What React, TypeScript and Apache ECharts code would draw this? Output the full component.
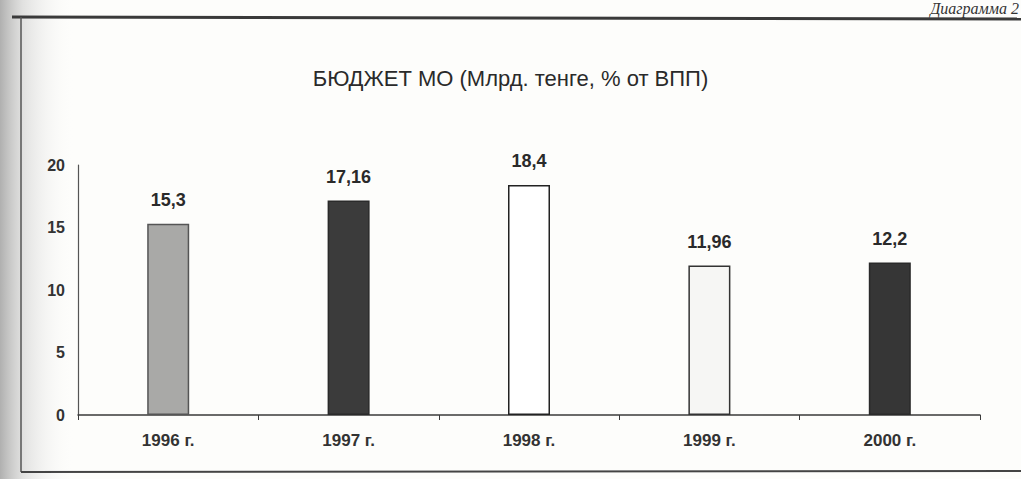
import React, { useEffect, useRef } from "react";
import * as echarts from "echarts";

const categories = ["1996 г.", "1997 г.", "1998 г.", "1999 г.", "2000 г."];
const values = [15.3, 17.16, 18.4, 11.96, 12.2];
const yTicks = [0, 5, 10, 15, 20];
const titleText = "БЮДЖЕТ МО (Млрд. тенге, % от ВПП)";
const captionText = "Диаграмма 2";

const barFills = ["#a9a9a7", "#3b3b3b", "#ffffff", "#f6f6f4", "#363636"];
const barBorders = ["#555555", "#2a2a2a", "#222222", "#333333", "#2a2a2a"];

export default function App() {
  const ref = useRef<HTMLDivElement>(null);
  useEffect(() => {
    if (!ref.current) return;
    const chart = echarts.init(ref.current, undefined, { renderer: "svg" });
    const font = "'Liberation Sans', Arial, sans-serif";
    chart.setOption({
      animation: false,
      backgroundColor: "#fdfdfb",
      title: {
        text: titleText,
        left: "center",
        top: 62,
        textStyle: { fontFamily: font, fontSize: 22, fontWeight: "normal", color: "#2a2a2a" },
      },
      grid: { left: 78, right: 41, top: 165, bottom: 64, containLabel: false },
      xAxis: {
        type: "category",
        data: categories,
        boundaryGap: true,
        axisLine: { lineStyle: { color: "#3a3a3a", width: 1.5 } },
        axisTick: { show: true, length: 5, lineStyle: { color: "#3a3a3a" } },
        axisLabel: {
          margin: 17,
          fontFamily: font,
          fontSize: 17,
          fontWeight: "bold",
          color: "#333",
        },
      },
      yAxis: {
        type: "value",
        min: yTicks[0],
        max: yTicks[yTicks.length - 1],
        interval: 5,
        axisLine: { show: true, lineStyle: { color: "#555", width: 1.2 } },
        axisTick: { show: false },
        splitLine: { show: false },
        axisLabel: {
          margin: 13,
          fontFamily: font,
          fontSize: 16,
          fontWeight: "bold",
          color: "#333",
        },
      },
      series: [
        {
          type: "bar",
          barWidth: 42,
          data: values.map((v, i) => ({
            value: v,
            itemStyle: { color: barFills[i], borderColor: barBorders[i], borderWidth: 1.5 },
          })),
          label: {
            show: true,
            position: "top",
            distance: 15,
            fontFamily: font,
            fontSize: 18,
            fontWeight: "bold",
            color: "#2a2a2a",
            formatter: (p: any) => String(p.value).replace(".", ","),
          },
        },
      ],
      graphic: [
        {
          type: "rect",
          silent: true,
          z: -1,
          shape: { x: 0, y: 0, width: 75, height: 479 },
          style: {
            fill: new echarts.graphic.LinearGradient(0, 0, 1, 0, [
              { offset: 0, color: "rgba(150,150,150,0.75)" },
              { offset: 0.3, color: "rgba(190,190,190,0.45)" },
              { offset: 1, color: "rgba(255,255,255,0)" },
            ]),
          },
        },
        {
          type: "line",
          silent: true,
          shape: { x1: 12, y1: 17, x2: 1021, y2: 19 },
          style: { stroke: "#3a3a3a", lineWidth: 3 },
        },
        {
          type: "line",
          silent: true,
          shape: { x1: 21, y1: 17, x2: 21, y2: 472 },
          style: { stroke: "#555", lineWidth: 1.5 },
        },
        {
          type: "line",
          silent: true,
          shape: { x1: 21, y1: 472, x2: 1021, y2: 471 },
          style: { stroke: "#444", lineWidth: 2 },
        },
        {
          type: "text",
          silent: true,
          right: 2,
          top: 0,
          style: {
            text: captionText,
            fontFamily: "'Liberation Serif', 'DejaVu Serif', serif",
            fontStyle: "italic",
            fontSize: 16,
            fill: "#333",
          },
        },
      ],
    });
    return () => chart.dispose();
  }, []);
  return (
    <div
      ref={ref}
      style={{ position: "fixed", left: 0, top: 0, width: 1021, height: 479 }}
    />
  );
}
